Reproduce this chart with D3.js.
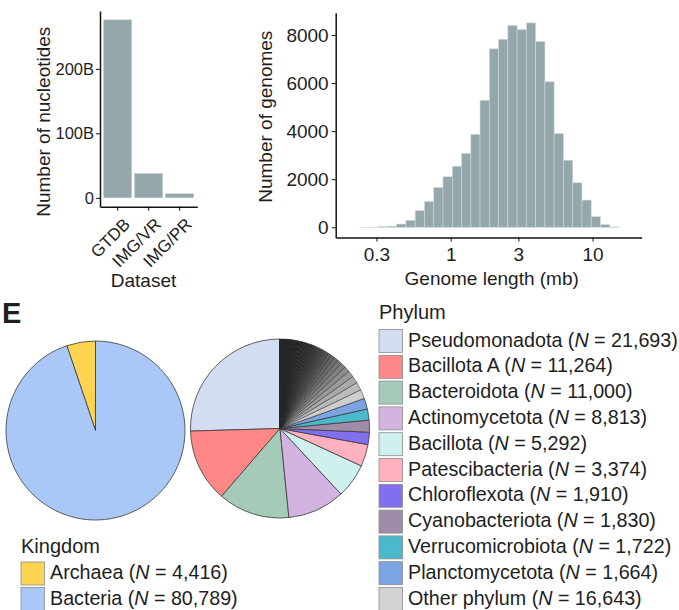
<!DOCTYPE html>
<html>
<head>
<meta charset="utf-8">
<script src="https://cdn.jsdelivr.net/npm/d3@7"></script>
<style>
  body { margin: 0; background: #fff; }
  svg text { font-family: "Liberation Sans", Arial, sans-serif; fill: #1e1e1e; }
</style>
</head>
<body>
<svg id="fig" width="679" height="610"></svg>
<script>
// nucleotides per dataset
const datasets = ["GTDB", "IMG/VR", "IMG/PR"];
const nucleotides = [276e9, 37.4e9, 6.2e9];

// genome length histogram, bin edges in log10(mb)
const binEdges = [-0.641, -0.576, -0.511, -0.445, -0.380, -0.315, -0.250, -0.184, -0.119, -0.054,
  0.012, 0.077, 0.142, 0.207, 0.273, 0.338, 0.403, 0.468, 0.534, 0.599,
  0.664, 0.729, 0.795, 0.860, 0.925, 0.990, 1.055, 1.121, 1.186];
const genomeCounts = [2, 5, 25, 45, 135, 290, 690, 1070, 1650, 2100,
  2540, 3070, 3870, 5280, 7420, 7820, 8390, 8220, 8500, 7720,
  6050, 3900, 2790, 1850, 1130, 440, 110, 15];
const lengthTicks = [0.3, 1, 3, 10];
const countTicks = [0, 2000, 4000, 6000, 8000];

// kingdom pie
const kingdoms = ["Archaea", "Bacteria"];
const kingdomCounts = [4416, 80789];
const kingdomColors = ["#ffd24f", "#a9c7f7"];

// phylum pie
const phyla = ["Pseudomonadota", "Bacillota A", "Bacteroidota", "Actinomycetota", "Bacillota",
  "Patescibacteria", "Chloroflexota", "Cyanobacteriota", "Verrucomicrobiota", "Planctomycetota"];
const phylumCounts = [21693, 11264, 11000, 8813, 5292, 3374, 1910, 1830, 1722, 1664];
const phylumColors = ["#d4def3", "#ff8787", "#a5cbb8", "#d3b4e0", "#d0f0ee", "#ffb1bf",
  "#8070f0", "#a08ba8", "#4cb8cc", "#7ca3e2"];
const otherLabel = "Other phylum";
const otherColor = "#d3d3d3";
// the phyla lumped into "Other phylum" (sums to 16,643)
const otherPhylumCounts = [1400, 1250, 1100, 1000, 852, 800, 720, 650, 590, 540,
  450, 420, 395, 370, 350, 330, 310, 290, 275, 260, 245, 230, 218, 205, 193, 182, 172, 162, 153, 145,
  137, 130, 123, 116, 110, 104, 98, 93, 88, 83, 78, 74, 70, 66, 62, 58, 55, 52, 49, 46,
  43, 41, 39, 37, 35, 33, 31, 29, 28, 27, 26, 25, 24, 23, 22, 21, 20, 19, 18, 17,
  16, 15, 14, 13, 12, 11, 10, 9, 8, 7, 6, 5, 4, 3, 2, 1];

const svg = d3.select("#fig");
const barFill = "#94a7ab";
const fmt = d3.format(",");

// ---------- bar chart: nucleotides ----------
const bx = d3.scaleBand().domain(datasets).range([100, 197.3]).paddingInner(0.1).paddingOuter(0.12);
const by = d3.scaleLinear().domain([-13.8e9, 289.8e9]).range([206.7, 11]);

svg.append("g").selectAll("rect")
  .data(datasets)
  .enter().append("rect")
  .attr("x", d => bx(d))
  .attr("width", bx.bandwidth())
  .attr("y", (d, i) => by(nucleotides[i]))
  .attr("height", (d, i) => by(0) - by(nucleotides[i]))
  .attr("fill", barFill)
  .attr("stroke", "#b9c6c9")
  .attr("stroke-width", 0.6);

const byAxis = svg.append("g")
  .attr("transform", "translate(100,0)")
  .call(d3.axisLeft(by).tickValues([0, 100e9, 200e9])
    .tickFormat(d => d === 0 ? "0" : (d / 1e9) + "B")
    .tickSize(4).tickSizeOuter(0).tickPadding(2));
byAxis.selectAll("text").style("font-size", "16.5px").attr("fill", "#1e1e1e");

const bxAxis = svg.append("g")
  .attr("transform", "translate(0,206.7)")
  .call(d3.axisBottom(bx).tickSize(4).tickSizeOuter(0));
bxAxis.selectAll("text").remove();
svg.append("g").selectAll("text")
  .data(datasets)
  .enter().append("text")
  .attr("transform", d => "translate(" + (bx(d) + bx.bandwidth() / 2 + 5) + ",217) rotate(-45)")
  .attr("dy", "0.7em")
  .attr("text-anchor", "end")
  .style("font-size", "17px")
  .text(d => d);

svg.append("text")
  .attr("transform", "translate(50,121.7) rotate(-90)")
  .attr("text-anchor", "middle")
  .style("font-size", "19px")
  .text("Number of nucleotides");
svg.append("text")
  .attr("x", 143.5).attr("y", 287)
  .attr("text-anchor", "middle")
  .style("font-size", "19px")
  .text("Dataset");

// ---------- histogram: genome length ----------
const hx = d3.scaleLog().domain([Math.pow(10, -0.810), Math.pow(10, 1.346)]).range([335.7, 641.7]);
const hy = d3.scaleLinear().domain([-425, 8925]).range([237.5, 12.7]);

svg.append("g").selectAll("rect")
  .data(genomeCounts)
  .enter().append("rect")
  .attr("x", (d, i) => hx(Math.pow(10, binEdges[i])))
  .attr("width", (d, i) => hx(Math.pow(10, binEdges[i + 1])) - hx(Math.pow(10, binEdges[i])))
  .attr("y", d => hy(d))
  .attr("height", d => hy(0) - hy(d))
  .attr("fill", barFill)
  .attr("stroke", "#cdd6d8")
  .attr("stroke-width", 0.6);

const hxAxis = svg.append("g")
  .attr("transform", "translate(0,237.5)")
  .call(d3.axisBottom(hx).tickValues(lengthTicks).tickFormat(d => String(d))
    .tickSize(4).tickSizeOuter(0).tickPadding(6));
hxAxis.selectAll("text").style("font-size", "19px").attr("fill", "#1e1e1e");

const hyAxis = svg.append("g")
  .attr("transform", "translate(335.7,0)")
  .call(d3.axisLeft(hy).tickValues(countTicks).tickFormat(d3.format("d"))
    .tickSize(4).tickSizeOuter(0).tickPadding(3));
hyAxis.selectAll("text").style("font-size", "19px").attr("fill", "#1e1e1e");

svg.append("text")
  .attr("transform", "translate(272,116.7) rotate(-90)")
  .attr("text-anchor", "middle")
  .style("font-size", "19px")
  .text("Number of genomes");
svg.append("text")
  .attr("x", 491.7).attr("y", 285)
  .attr("text-anchor", "middle")
  .style("font-size", "19px")
  .text("Genome length (mb)");

[byAxis, bxAxis, hxAxis, hyAxis].forEach(a => {
  a.select(".domain").attr("stroke", "#111").attr("stroke-width", 1.5);
  a.selectAll(".tick line").attr("stroke", "#111").attr("stroke-width", 1);
});

// ---------- panel E: pies ----------
svg.append("text")
  .attr("x", 2).attr("y", 323)
  .style("font-size", "29px")
  .style("font-weight", "bold")
  .attr("fill", "#111")
  .text("E");

const R = 89.5;
const arc = d3.arc().innerRadius(0).outerRadius(R);
const pie = d3.pie().sort(null).startAngle(0).endAngle(-2 * Math.PI);

svg.append("g")
  .attr("transform", "translate(95.5,430.5)")
  .selectAll("path")
  .data(pie(kingdomCounts))
  .enter().append("path")
  .attr("d", arc)
  .attr("fill", (d, i) => kingdomColors[i])
  .attr("stroke", "#3a3a3a")
  .attr("stroke-width", 0.8);

// other phyla shade from light grey to black along the pie
const allPhylumCounts = phylumCounts.concat(otherPhylumCounts);
const otherTotal = d3.sum(otherPhylumCounts);
const otherMid = otherPhylumCounts.map((c, i) => (d3.sum(otherPhylumCounts.slice(0, i)) + c / 2) / otherTotal);
const grey = d3.interpolateRgb("#d8d8d8", "#000000");
const phylumFill = i => i < phyla.length ? phylumColors[i] : grey(Math.min(1, otherMid[i - phyla.length] * 1.12));

svg.append("g")
  .attr("transform", "translate(280,428.5)")
  .selectAll("path")
  .data(pie(allPhylumCounts))
  .enter().append("path")
  .attr("d", arc)
  .attr("fill", (d, i) => phylumFill(i))
  .attr("stroke", (d, i) => i < phyla.length ? "#3a3a3a" : "#2a2a2a")
  .attr("stroke-width", (d, i) => i < phyla.length ? 0.8 : 0.5);

// legends
function legendRow(g, y, color, name, count, x0) {
  g.append("rect")
    .attr("x", x0).attr("y", y - 11.5)
    .attr("width", 23.5).attr("height", 23)
    .attr("fill", color)
    .attr("stroke", "#8c8c8c")
    .attr("stroke-width", 0.8);
  const t = g.append("text")
    .attr("x", x0 + 29).attr("y", y + 5.5)
    .style("font-size", "19.7px");
  t.append("tspan").text(name + " (");
  t.append("tspan").style("font-style", "italic").text("N");
  t.append("tspan").text(" = " + fmt(count) + ")");
}

const kLeg = svg.append("g");
kLeg.append("text").attr("x", 21).attr("y", 553).style("font-size", "20px").text("Kingdom");
kingdoms.forEach((k, i) => legendRow(kLeg, 573.5 + i * 25.5, kingdomColors[i], k, kingdomCounts[i], 21));

const pLeg = svg.append("g");
pLeg.append("text").attr("x", 379).attr("y", 318.5).style("font-size", "20px").text("Phylum");
phyla.forEach((p, i) => legendRow(pLeg, 341 + i * 25.8, phylumColors[i], p, phylumCounts[i], 379));
legendRow(pLeg, 341 + phyla.length * 25.8, otherColor, otherLabel, otherTotal, 379);
</script>
</body>
</html>
